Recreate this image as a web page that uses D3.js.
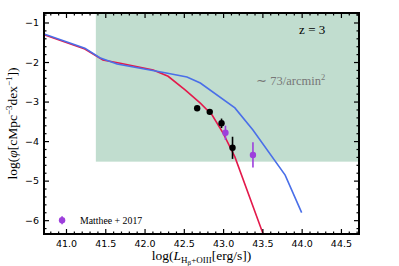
<!DOCTYPE html>
<html>
<head>
<meta charset="utf-8">
<script src="https://cdn.jsdelivr.net/npm/d3@7"></script>
<style>
  body { margin: 0; background: #fff; }
  svg { display: block; }
</style>
</head>
<body>
<div id="chart"></div>
<script>
// curves
let blueX = [40.72, 41.24, 41.43, 41.65, 42.26, 42.54, 42.71, 43.15, 43.38, 43.79, 44.0];
let blueY = [-1.29, -1.65, -1.89, -2.05, -2.27, -2.38, -2.53, -3.16, -3.72, -4.86, -5.81];
let redX = [40.72, 41.24, 41.47, 41.69, 42.11, 42.30, 42.52, 42.71, 42.86, 43.0, 43.15, 43.5, 43.62];
let redY = [-1.31, -1.67, -1.95, -2.03, -2.2, -2.36, -2.71, -3.04, -3.34, -3.8, -4.4, -6.3, -6.95];

// observed points
let blackX = [42.67, 42.83, 42.98, 43.12];
let blackY = [-3.17, -3.26, -3.55, -4.17];
let blackErr = [0.03, 0.06, 0.12, 0.28];
let purpleX = [43.03, 43.38];
let purpleY = [-3.79, -4.35];
let purpleErr = [0.18, 0.32];

// shaded region
let shadeX0 = 41.38, shadeY0 = -4.52;

let xTicks = [41.0, 41.5, 42.0, 42.5, 43.0, 43.5, 44.0, 44.5];
let yTicks = [-1, -2, -3, -4, -5, -6];

let W = 399, H = 266;
let margin = { left: 44, top: 13, right: 40, bottom: 32 };
let width = W - margin.left - margin.right,
  height = H - margin.top - margin.bottom;

let svg = d3.select("#chart").append("svg").attr("width", W).attr("height", H);
let g = svg.append("g").attr("transform", `translate(${margin.left},${margin.top})`);

let x = d3.scaleLinear().domain([40.72, 44.73]).range([0, width]);
let y = d3.scaleLinear().domain([-6.35, -0.76]).range([height, 0]);

svg.append("defs").append("clipPath").attr("id", "clip")
  .append("rect").attr("width", width).attr("height", height);

let plot = g.append("g").attr("clip-path", "url(#clip)");

// green area
plot.append("rect")
  .attr("x", x(shadeX0))
  .attr("y", 0)
  .attr("width", width - x(shadeX0))
  .attr("height", y(shadeY0))
  .attr("fill", "#c1ddcf");

let line = d3.line().x(d => x(d[0])).y(d => y(d[1]));

plot.append("path")
  .datum(redX.map((v, i) => [v, redY[i]]))
  .attr("d", line)
  .attr("fill", "none")
  .attr("stroke", "#e3194b")
  .attr("stroke-width", 1.6);

plot.append("path")
  .datum(blueX.map((v, i) => [v, blueY[i]]))
  .attr("d", line)
  .attr("fill", "none")
  .attr("stroke", "#4a6fe8")
  .attr("stroke-width", 1.6);

// points with error bars
function drawPoints(xs, ys, es, col) {
  xs.forEach((v, i) => {
    plot.append("line")
      .attr("x1", x(v)).attr("x2", x(v))
      .attr("y1", y(ys[i] + es[i])).attr("y2", y(ys[i] - es[i]))
      .attr("stroke", col).attr("stroke-width", 1.6);
    plot.append("circle")
      .attr("cx", x(v)).attr("cy", y(ys[i]))
      .attr("r", 3.2).attr("fill", col);
  });
}
drawPoints(blackX, blackY, blackErr, "#000");
drawPoints(purpleX, purpleY, purpleErr, "#9d3fdc");

// ticks on all four sides, pointing in
let xMinor = d3.range(40.8, 44.71, 0.1).filter(v => Math.abs(v * 2 - Math.round(v * 2)) > 0.01);
let yMinor = d3.range(-6.2, -0.79, 0.2).filter(v => Math.abs(v - Math.round(v)) > 0.01);

let axB = g.append("g").attr("transform", `translate(0,${height})`)
  .call(d3.axisBottom(x).tickValues(xTicks).tickFormat(d3.format(".1f")).tickSizeInner(-5).tickSizeOuter(0).tickPadding(6));
let axBm = g.append("g").attr("transform", `translate(0,${height})`)
  .call(d3.axisBottom(x).tickValues(xMinor).tickFormat("").tickSizeInner(-2.5).tickSizeOuter(0));
let axT = g.append("g")
  .call(d3.axisTop(x).tickValues(xTicks).tickFormat("").tickSizeInner(-5).tickSizeOuter(0));
let axTm = g.append("g")
  .call(d3.axisTop(x).tickValues(xMinor).tickFormat("").tickSizeInner(-2.5).tickSizeOuter(0));
let axL = g.append("g")
  .call(d3.axisLeft(y).tickValues(yTicks).tickFormat(d => "\u2212" + Math.abs(d)).tickSizeInner(-5).tickSizeOuter(0).tickPadding(5));
let axLm = g.append("g")
  .call(d3.axisLeft(y).tickValues(yMinor).tickFormat("").tickSizeInner(-2.5).tickSizeOuter(0));
let axR = g.append("g").attr("transform", `translate(${width},0)`)
  .call(d3.axisRight(y).tickValues(yTicks).tickFormat("").tickSizeInner(-5).tickSizeOuter(0));
let axRm = g.append("g").attr("transform", `translate(${width},0)`)
  .call(d3.axisRight(y).tickValues(yMinor).tickFormat("").tickSizeInner(-2.5).tickSizeOuter(0));

[axB, axBm, axT, axTm, axL, axLm, axR, axRm].forEach(a => {
  a.select(".domain").remove();
  a.selectAll(".tick line").attr("stroke", "#000").attr("stroke-width", 1.2);
  a.selectAll("text").attr("font-family", "DejaVu Sans").attr("font-size", 9.5).attr("fill", "#000");
});

// frame
g.append("rect").attr("width", width).attr("height", height)
  .attr("fill", "none").attr("stroke", "#000").attr("stroke-width", 2);

let serif = "Liberation Serif";

// annotations
g.append("text").attr("x", x(44.3)).attr("y", y(-1.28))
  .attr("text-anchor", "end").attr("font-family", serif).attr("font-size", 13)
  .text("z = 3");

let ann = g.append("text").attr("x", x(44.3)).attr("y", y(-2.58))
  .attr("text-anchor", "end").attr("font-family", serif).attr("font-size", 12.5).attr("fill", "#777");
ann.append("tspan").text("\u223C 73/arcmin");
ann.append("tspan").attr("font-size", 8.5).attr("dy", -5).text("2");

// legend
let lgX = x(40.95), lgY = y(-6.0);
g.append("line").attr("x1", lgX).attr("x2", lgX).attr("y1", lgY - 4).attr("y2", lgY + 4)
  .attr("stroke", "#9d3fdc").attr("stroke-width", 1.6);
g.append("circle").attr("cx", lgX).attr("cy", lgY).attr("r", 3.2).attr("fill", "#9d3fdc");
g.append("text").attr("x", lgX + 18).attr("y", lgY + 3.5)
  .attr("font-family", serif).attr("font-size", 9.8).text("Matthee + 2017");

// axis labels
let xl = svg.append("text")
  .attr("x", margin.left + width / 2).attr("y", H - 6)
  .attr("text-anchor", "middle").attr("font-family", serif).attr("font-size", 13.5);
xl.append("tspan").text("log(");
xl.append("tspan").attr("font-style", "italic").text("L");
xl.append("tspan").attr("font-size", 9).attr("dy", 3).text("H");
xl.append("tspan").attr("font-size", 7).attr("dy", 2).text("\u03B2");
xl.append("tspan").attr("font-size", 9).attr("dy", -2).text("+OIII");
xl.append("tspan").attr("dy", -3).text("[erg/s])");

let yl = svg.append("text")
  .attr("transform", `translate(17,${margin.top + height / 2}) rotate(-90)`)
  .attr("text-anchor", "middle").attr("font-family", serif).attr("font-size", 13.5);
yl.append("tspan").text("log(");
yl.append("tspan").attr("font-style", "italic").text("\u03C6");
yl.append("tspan").text("[cMpc");
yl.append("tspan").attr("font-size", 9).attr("dy", -5).text("\u22123");
yl.append("tspan").attr("dy", 5).text("dex");
yl.append("tspan").attr("font-size", 9).attr("dy", -5).text("\u22121");
yl.append("tspan").attr("dy", 5).text("])");
</script>
</body>
</html>
